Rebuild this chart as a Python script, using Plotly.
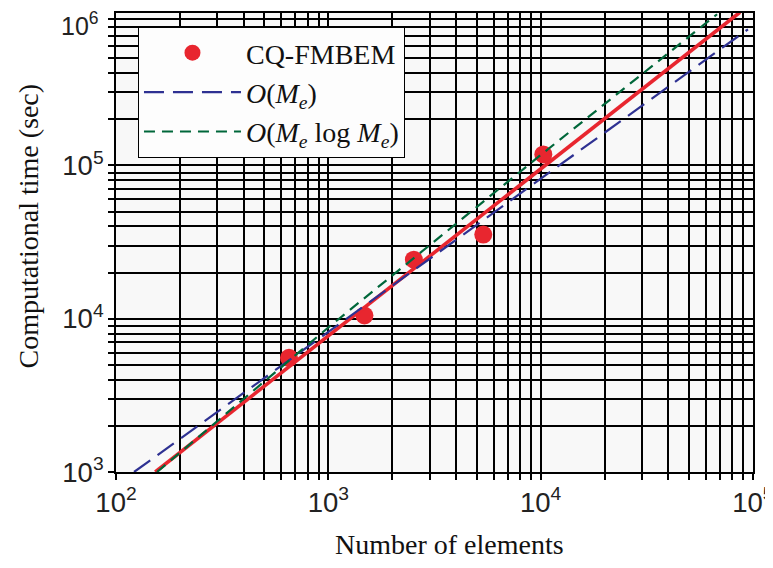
import plotly.graph_objects as go

# Measured data (CQ-FMBEM)
elements = [653, 1480, 2530, 5370, 10300]
comp_time = [5560, 10500, 24300, 35400, 118000]

# Fitted line
fit_x = [153, 86900]
fit_y = [1000, 1000000]

# O(Me) reference line
ome_x = [121.6, 94800]
ome_y = [1000, 774000]

# O(Me log Me) reference line
omelog_x = [156, 1000, 10000, 67800]
omelog_y = [1000, 8770, 116900, 970000]

x_title = "Number of elements"
y_title = "Computational time (sec)"
y_top_label = "10<sup>6</sup>"

RED = "#e8262f"
BLUE = "#2e3192"
GREEN = "#00673a"
SERIF = "Liberation Serif"
SANS = "Liberation Sans"

fig = go.Figure()
fig.add_trace(go.Scatter(x=elements, y=comp_time, mode="markers", name="CQ-FMBEM",
                         marker=dict(color=RED, size=18)))
fig.add_trace(go.Scatter(x=fit_x, y=fit_y, mode="lines", showlegend=False,
                         line=dict(color=RED, width=3.6)))
fig.add_trace(go.Scatter(x=ome_x, y=ome_y, mode="lines",
                         name="<i>O</i>(<i>M</i><sub><i>e</i></sub>)",
                         line=dict(color=BLUE, width=2.2, dash="20px,9px")))
fig.add_trace(go.Scatter(x=omelog_x, y=omelog_y, mode="lines",
                         name="<i>O</i>(<i>M</i><sub><i>e</i></sub> log <i>M</i><sub><i>e</i></sub>)",
                         line=dict(color=GREEN, width=2.2, dash="11px,7px")))

axis_common = dict(
    type="log", dtick=1, exponentformat="power", showexponent="all",
    showgrid=True, gridcolor="black", gridwidth=2.4,
    ticks="outside", ticklen=6, tickwidth=2.4, tickcolor="black",
    showline=True, linecolor="black", linewidth=2, mirror=True,
    tickfont=dict(family=SANS, size=22, color="#222"),
    ticklabeloverflow="allow",
    minor=dict(dtick="D1", showgrid=True, gridcolor="#000", gridwidth=1.5,
               ticks="outside", ticklen=6, tickcolor="#000", tickwidth=1.5),
    zeroline=False, automargin=False,
)

fig.update_layout(
    width=765, height=560,
    margin=dict(l=108, r=20, t=5, b=96),
    paper_bgcolor="white", plot_bgcolor="#f8f8f8",
    xaxis=dict(range=[2, 5.0005], **axis_common),
    yaxis=dict(range=[3, 5.995], **axis_common),
    legend=dict(x=0.0345, y=0.9695, xanchor="left", yanchor="top",
                bgcolor="#fdfdfd", bordercolor="black", borderwidth=1,
                font=dict(family=SERIF, size=28, color="#111"), itemwidth=97,
                tracegroupgap=0),
    showlegend=True,
    annotations=[
        dict(text=x_title, xref="paper", yref="paper", x=0.523, y=-0.157,
             xanchor="center", yanchor="middle", showarrow=False,
             font=dict(family=SERIF, size=28, color="#111")),
        dict(text=y_title, xref="paper", yref="paper", x=-0.1366, y=0.537,
             xanchor="center", yanchor="middle", showarrow=False, textangle=-90,
             font=dict(family=SERIF, size=28, color="#111")),
        dict(text=y_top_label, xref="paper", yref="paper", x=0, y=1,
             xanchor="right", yanchor="top", xshift=-15, yshift=7, showarrow=False,
             font=dict(family=SANS, size=25, color="#222")),
    ],
)

fig.write_html("out.html")
